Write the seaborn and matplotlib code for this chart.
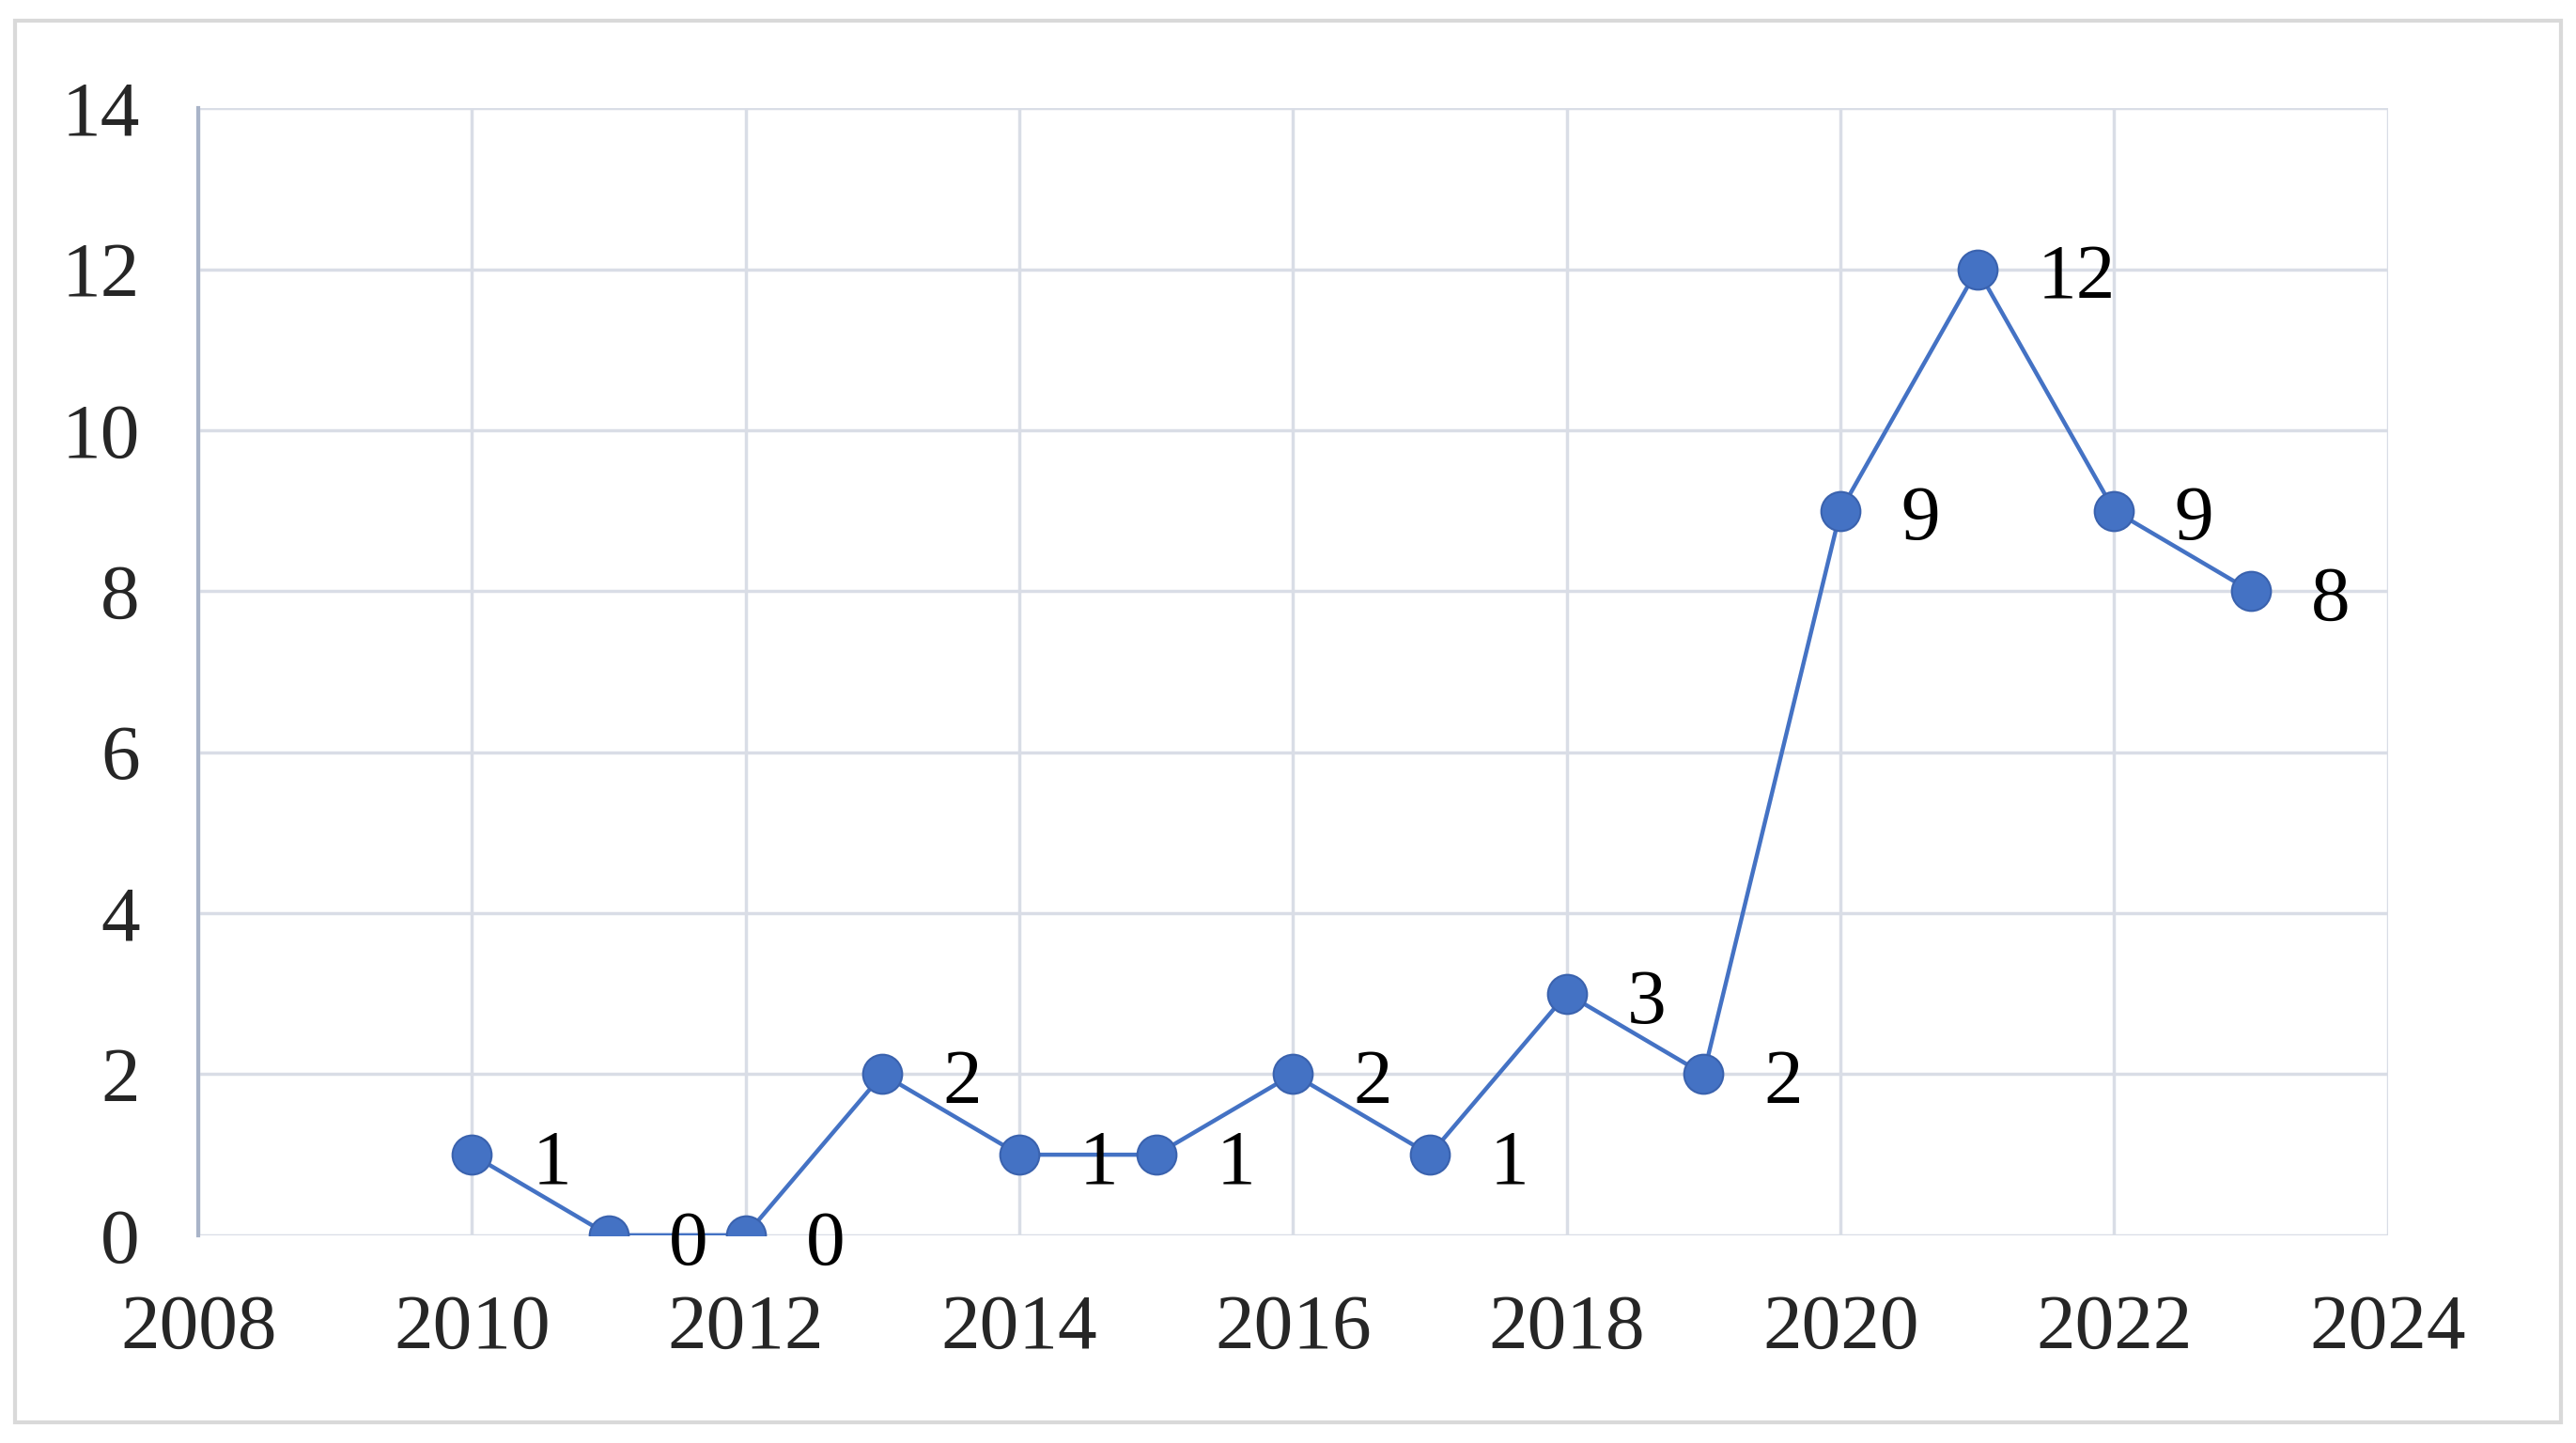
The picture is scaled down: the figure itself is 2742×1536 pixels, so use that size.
import matplotlib
matplotlib.use("Agg")
import matplotlib.pyplot as plt
import seaborn as sns
import pandas as pd
from matplotlib.patches import Rectangle

years = [2010, 2011, 2012, 2013, 2014, 2015, 2016, 2017, 2018, 2019, 2020, 2021, 2022, 2023]
counts = [1, 0, 0, 2, 1, 1, 2, 1, 3, 2, 9, 12, 9, 8]

df = pd.DataFrame({"Year": years, "Count": counts})

sns.set_style("white")
plt.rcParams['font.family'] = ['Liberation Serif', 'DejaVu Serif']

fig = plt.figure(figsize=(27.42, 15.36), dpi=100)
ax = fig.add_axes([0.077, 0.144, 0.85, 0.781])

line_color = "#4472C4"
sns.lineplot(data=df, x="Year", y="Count", ax=ax, color=line_color, linewidth=3.2,
             marker="o", markersize=30, markeredgecolor="#3A62AE", markeredgewidth=1.5, zorder=3)

# data labels to the right of each point
for x, y in zip(years, counts):
    ax.annotate(str(y), (x, y), xytext=(46, -8), textcoords="offset points",
                fontsize=60, ha="left", va="center", color="black")

ax.set_xlim(2008, 2024)
ax.set_ylim(0, 14)
ax.set_xticks(range(2008, 2025, 2))
ax.set_yticks(range(0, 15, 2))
ax.grid(True, color="#D9DDE6", linewidth=2.5)
ax.set_axisbelow(True)
for s in ["top", "right", "bottom"]:
    ax.spines[s].set_visible(False)
ax.spines["left"].set_color("#A9B4C8")
ax.spines["left"].set_linewidth(3)
ax.tick_params(axis="both", labelsize=60, length=0)
ax.tick_params(axis="x", pad=45)
ax.tick_params(axis="y", pad=45)
ax.set_xlabel("")
ax.set_ylabel("")

fig.patches.append(Rectangle((0.006, 0.014), 0.988, 0.972, transform=fig.transFigure,
                             fill=False, edgecolor="#D9D9D9", linewidth=3))

fig.savefig("out.png", dpi=100)
